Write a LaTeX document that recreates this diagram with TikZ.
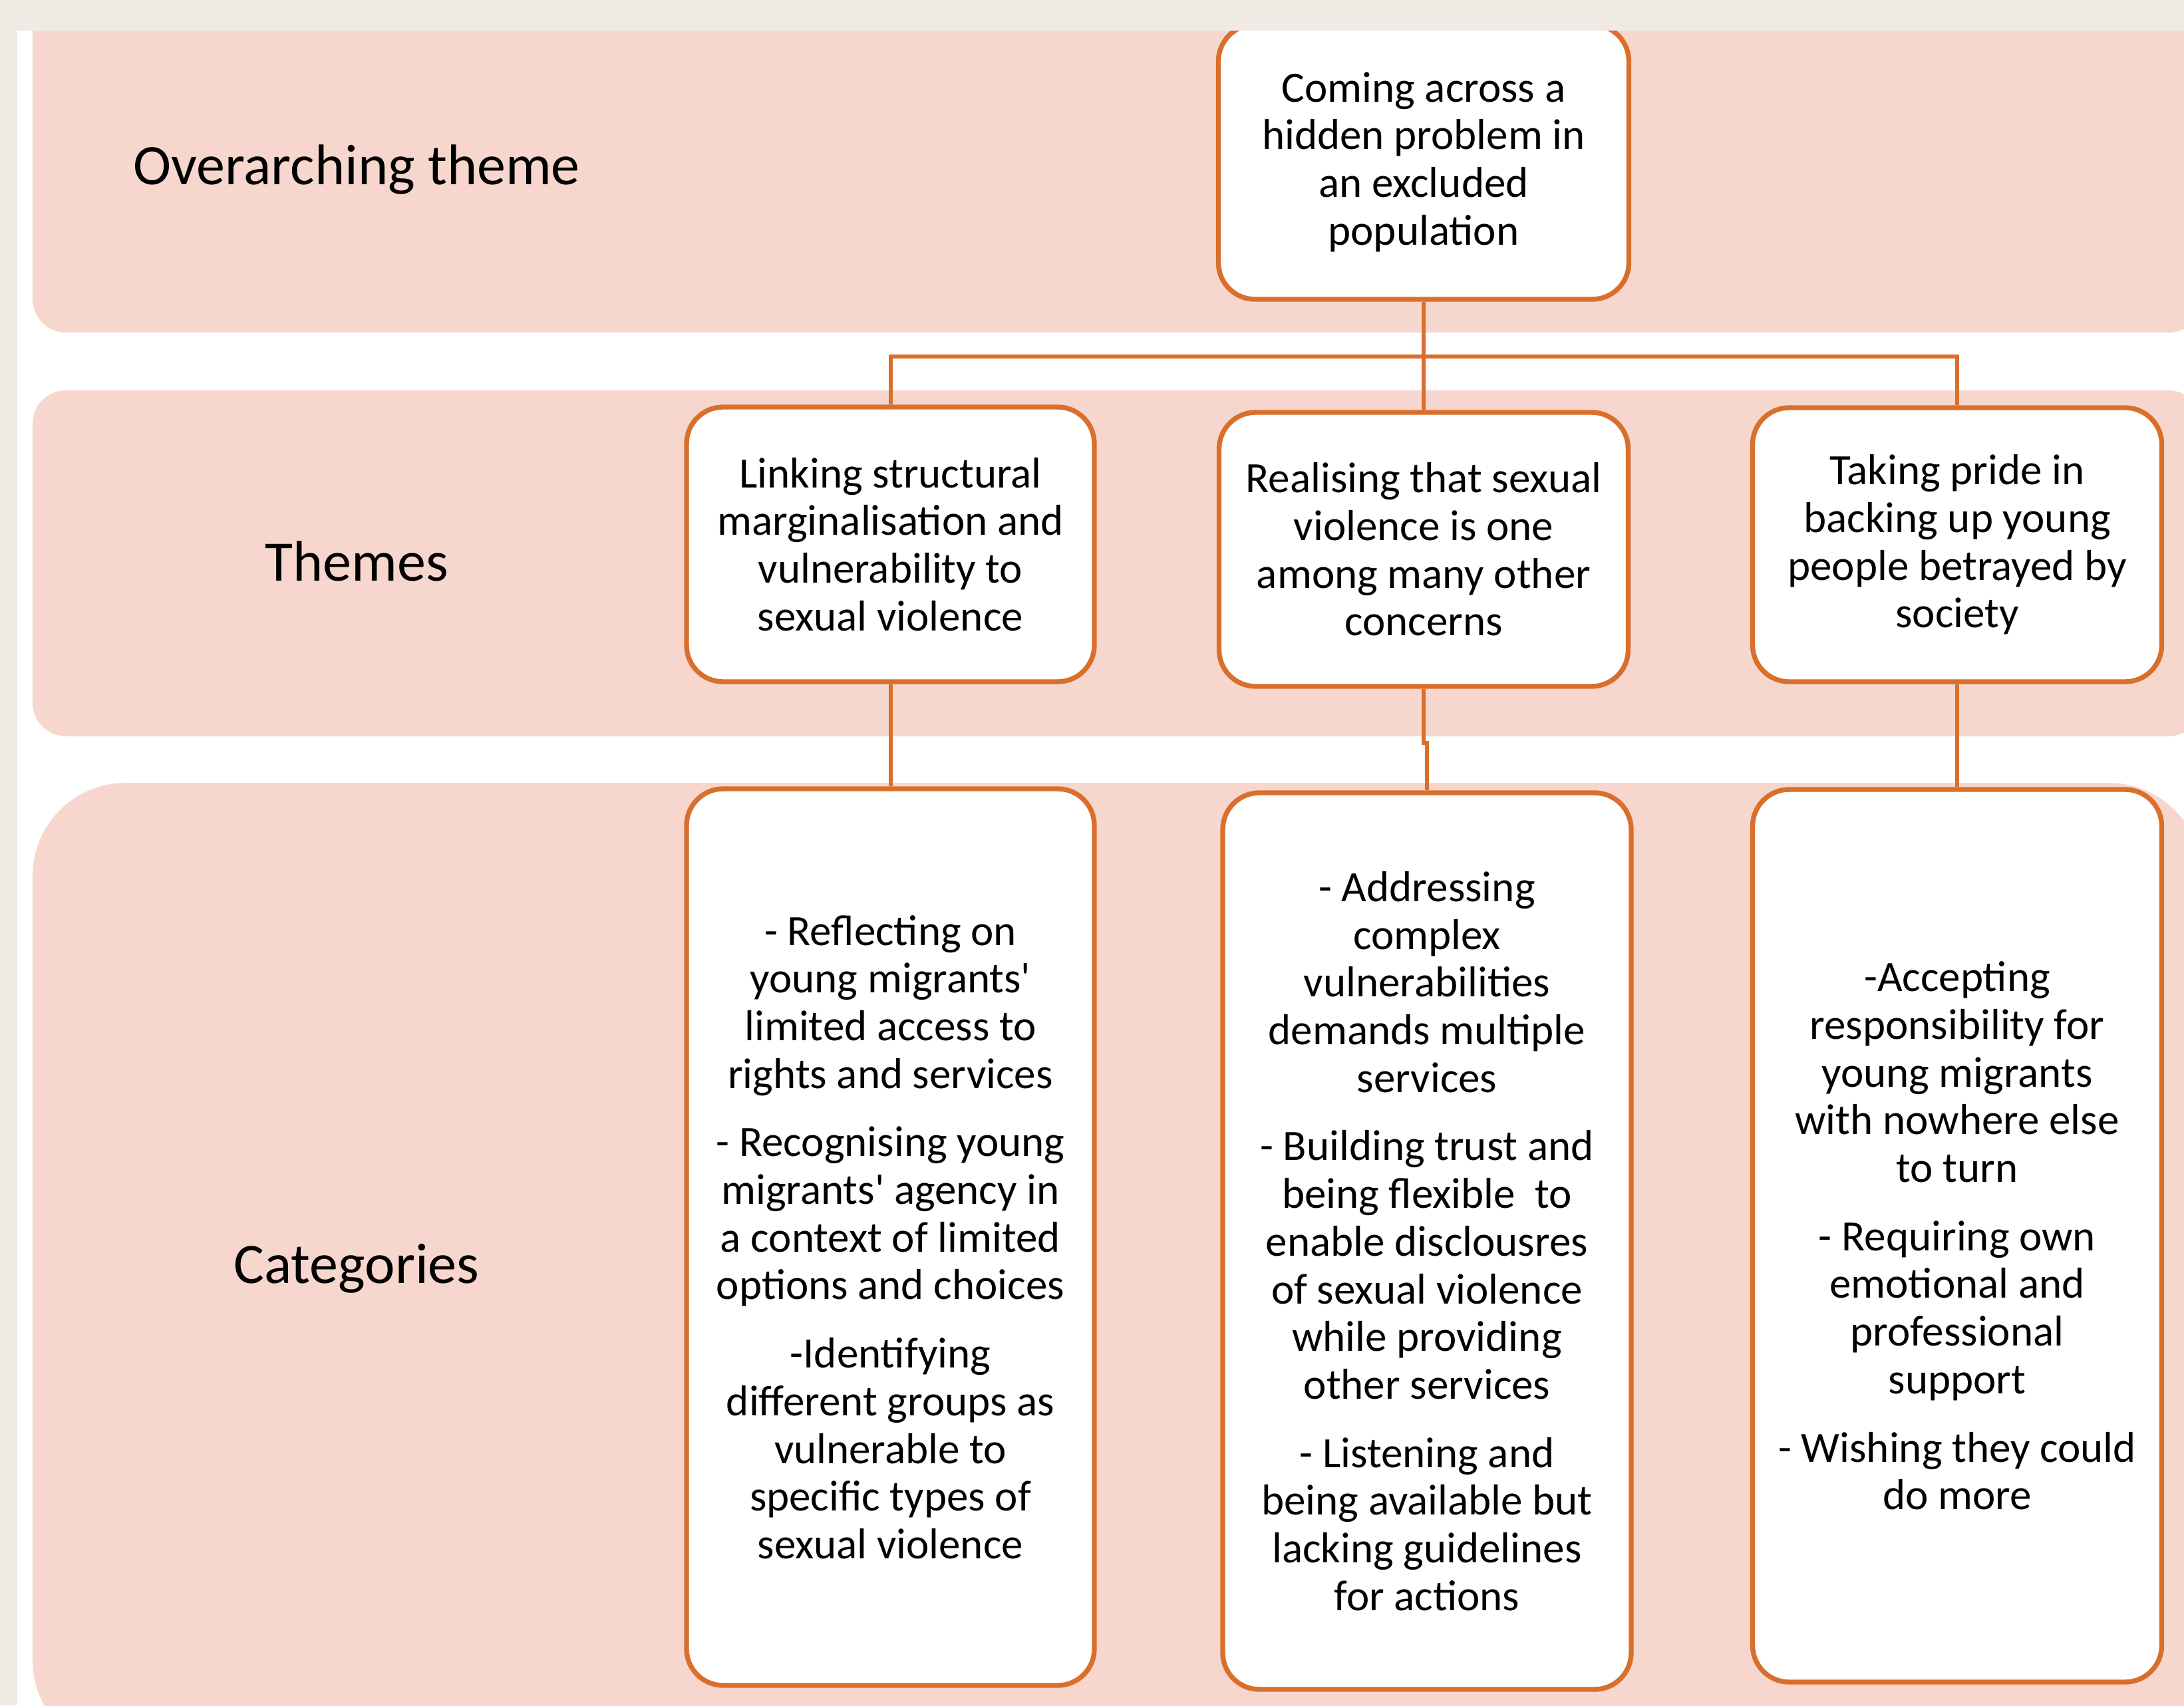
\documentclass[tikz,border=0pt]{standalone}
\usepackage{fontspec}
\setmainfont{Carlito}
\usepackage{tikz}
\usetikzlibrary{calc}
\definecolor{frame}{HTML}{EFEBE4}
\definecolor{band}{HTML}{F7D7CD}
\definecolor{edge}{HTML}{D96F2C}
\definecolor{ink}{HTML}{000000}
\tikzset{
  bandbox/.style={fill=band, draw=none},
  box/.style={draw=edge, fill=white, line width=2.1pt, rounded corners=0.55cm,
    align=center, inner sep=0pt, text=ink,
    font=\fontsize{18.5}{20.4}\selectfont},
  link/.style={draw=edge, line width=1.7pt},
  rowlabel/.style={text=ink, font=\fontsize{24.5}{29}\selectfont},
}

\begin{document}
\begin{tikzpicture}
\useasboundingbox (0,0) rectangle (32.83,-25.64);
\clip (0,0) rectangle (32.83,-25.64);
\fill[white] (0,0) rectangle (32.83,-25.64);
% bands
\foreach \ytop/\ybot/\rad in {0.5/-5.00/0.5, -5.87/-11.07/0.5, -11.77/-26.36/1.4}{
  \fill[bandbox, rounded corners=\rad cm] (0.49,\ytop) rectangle (33.1,\ybot);
}
\node[rowlabel] (lblover) at (5.36,-2.55) {Overarching theme};
\node[rowlabel] (lblthemes) at (5.36,-8.44) {Themes};
\node[rowlabel] (lblcats) at (5.36,-19.07) {Categories};

\node[box, minimum width=6.17cm, minimum height=4.13cm] (top) at (21.40,-2.435)
  {Coming across a\\hidden problem in\\an excluded\\population};
\node[box, minimum width=6.13cm, minimum height=4.13cm] (th1) at (13.385,-8.185)
  {Linking structural\\marginalisation and\\vulnerability to\\sexual violence};
\node[box, minimum width=6.15cm, minimum height=4.12cm] (th2) at (21.40,-8.26)
  {Realising that sexual\\violence is one\\among many other\\concerns};
\node[box, minimum width=6.15cm, minimum height=4.12cm] (th3) at (29.42,-8.19)
  {Taking pride in\\backing up young\\people betrayed by\\society};
\node[box, minimum width=6.13cm, minimum height=13.48cm] (cat1) at (13.385,-18.60)
  {- Reflecting on\\young migrants\textquotesingle\\limited access to\\rights and services\\[0.31cm]
   - Recognising young\\migrants\textquotesingle{} agency in\\a context of limited\\options and choices\\[0.31cm]
   -Identifying\\different groups as\\vulnerable to\\specific types of\\sexual violence};
\node[box, minimum width=6.14cm, minimum height=13.48cm] (cat2) at (21.45,-18.66)
  {- Addressing\\complex\\vulnerabilities\\demands multiple\\services\\[0.31cm]
   - Building trust and\\being flexible~ to\\enable disclousres\\of sexual violence\\while providing\\other services\\[0.31cm]
   - Listening and\\being available but\\lacking guidelines\\for actions};
\node[box, minimum width=6.15cm, minimum height=13.42cm] (cat3) at (29.42,-18.58)
  {-Accepting\\responsibility for\\young migrants\\with nowhere else\\to turn\\[0.31cm]
   - Requiring own\\emotional and\\professional\\support\\[0.31cm]
   - Wishing they could\\do more};

% connectors
\coordinate (hub) at ($(top.south)+(0,-0.82)$);
\draw[link] (top.south) -- (hub);
\draw[link] (th1.north) |- (hub) -| (th3.north);
\draw[link] (hub) -- (th2.north);
\draw[link] (th1.south) -- (cat1.north);
\draw[link] (th2.south) -- ++(0,-0.81) -| (cat2.north);
\draw[link] (th3.south) -- (cat3.north);

% frame
\fill[frame] (0,0) rectangle (32.83,-0.46);
\fill[frame] (0,0) rectangle (0.26,-25.64);
\end{tikzpicture}
\end{document}
